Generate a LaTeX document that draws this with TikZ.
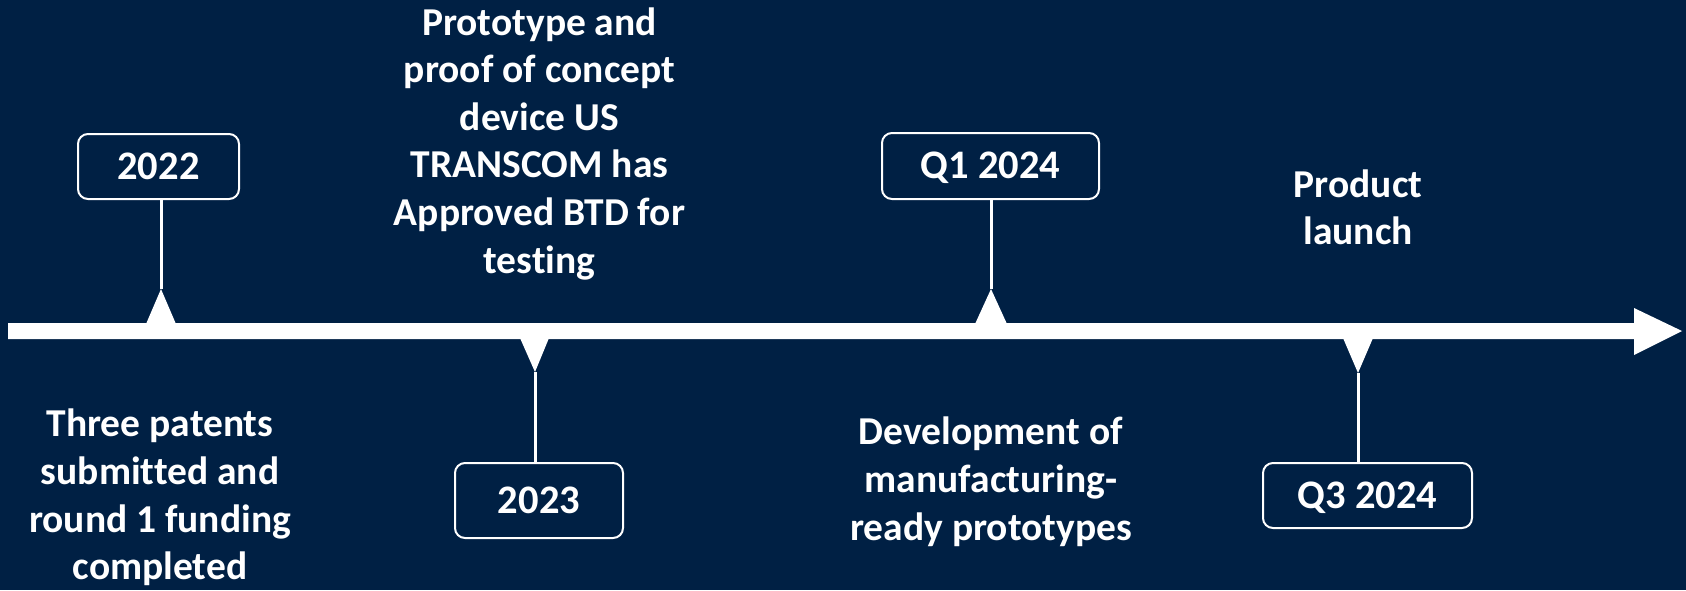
\documentclass[tikz,border=0pt]{standalone}
\usepackage{fontspec}
\setmainfont{Carlito}[Ligatures=NoCommon]
\definecolor{navy}{RGB}{0,32,68}
\begin{document}
\begin{tikzpicture}[x=1pt,y=-1pt,
  yearbox/.style={draw=white,line width=2pt,rounded corners=10pt,fill=navy,text=white,
    font=\fontsize{40.5}{47}\selectfont\bfseries,inner sep=0pt,text height=25.4pt,text depth=0pt},
  desc/.style={text=white,align=center,inner sep=0pt,
    font=\fontsize{39.5}{47.6}\selectfont\bfseries},
  stem/.style={draw=white,line width=3pt},
  tick/.style={fill=white}]
\fill[navy] (0,0) rectangle (1686,590);
\useasboundingbox (0,0) rectangle (1686,590);
% timeline arrow
\fill[white] (8,323) -- (1634,323) -- (1634,308) -- (1682,331) -- (1634,355) -- (1634,339) -- (8,339) -- cycle;
% year boxes
\node[yearbox,minimum width=161pt,minimum height=65pt] (b1) at (158.5,166.5) {2022};
\node[yearbox,minimum width=168pt,minimum height=75pt] (b2) at (539,500.5) {2023};
\node[yearbox,minimum width=217pt,minimum height=66pt] (b3) at (990.5,166) {Q1 2024};
\node[yearbox,minimum width=209pt,minimum height=65pt] (b4) at (1367.5,495.5) {Q3 2024};
% tick apexes
\coordinate (t1) at (161,289);
\coordinate (t2) at (535,372);
\coordinate (t3) at (991,289);
\coordinate (t4) at (1358,373);
% triangles
\fill[tick] (t1) -- (176,324) -- (146,324) -- cycle;
\fill[tick] (t2) -- (549,338) -- (520,338) -- cycle;
\fill[tick] (t3) -- (1007,324) -- (975,324) -- cycle;
\fill[tick] (t4) -- (1373,338) -- (1343,338) -- cycle;
% stems
\draw[stem] (t1) -- (t1 |- b1.south);
\draw[stem] (t2) -- (t2 |- b2.north);
\draw[stem] (t3) -- (t3 |- b3.south);
\draw[stem] (t4) -- (t4 |- b4.north);
% descriptions
\node[desc] (d1) at (160,498.7) {\strut Three patents\\\strut submitted and\\\strut round 1 funding\\\strut completed};
\node[desc] (d2) at (539.5,144.5) {\strut Prototype and\\\strut proof of concept\\\strut device US\\\strut TRANSCOM has\\\strut Approved BTD for\\\strut testing};
\node[desc] (d3) at (991,483) {\strut Development of\\\strut manufacturing-\\\strut ready prototypes};
\node[desc] (d4) at (1358,211.5) {\strut Product\\\strut launch};
\end{tikzpicture}
\end{document}
